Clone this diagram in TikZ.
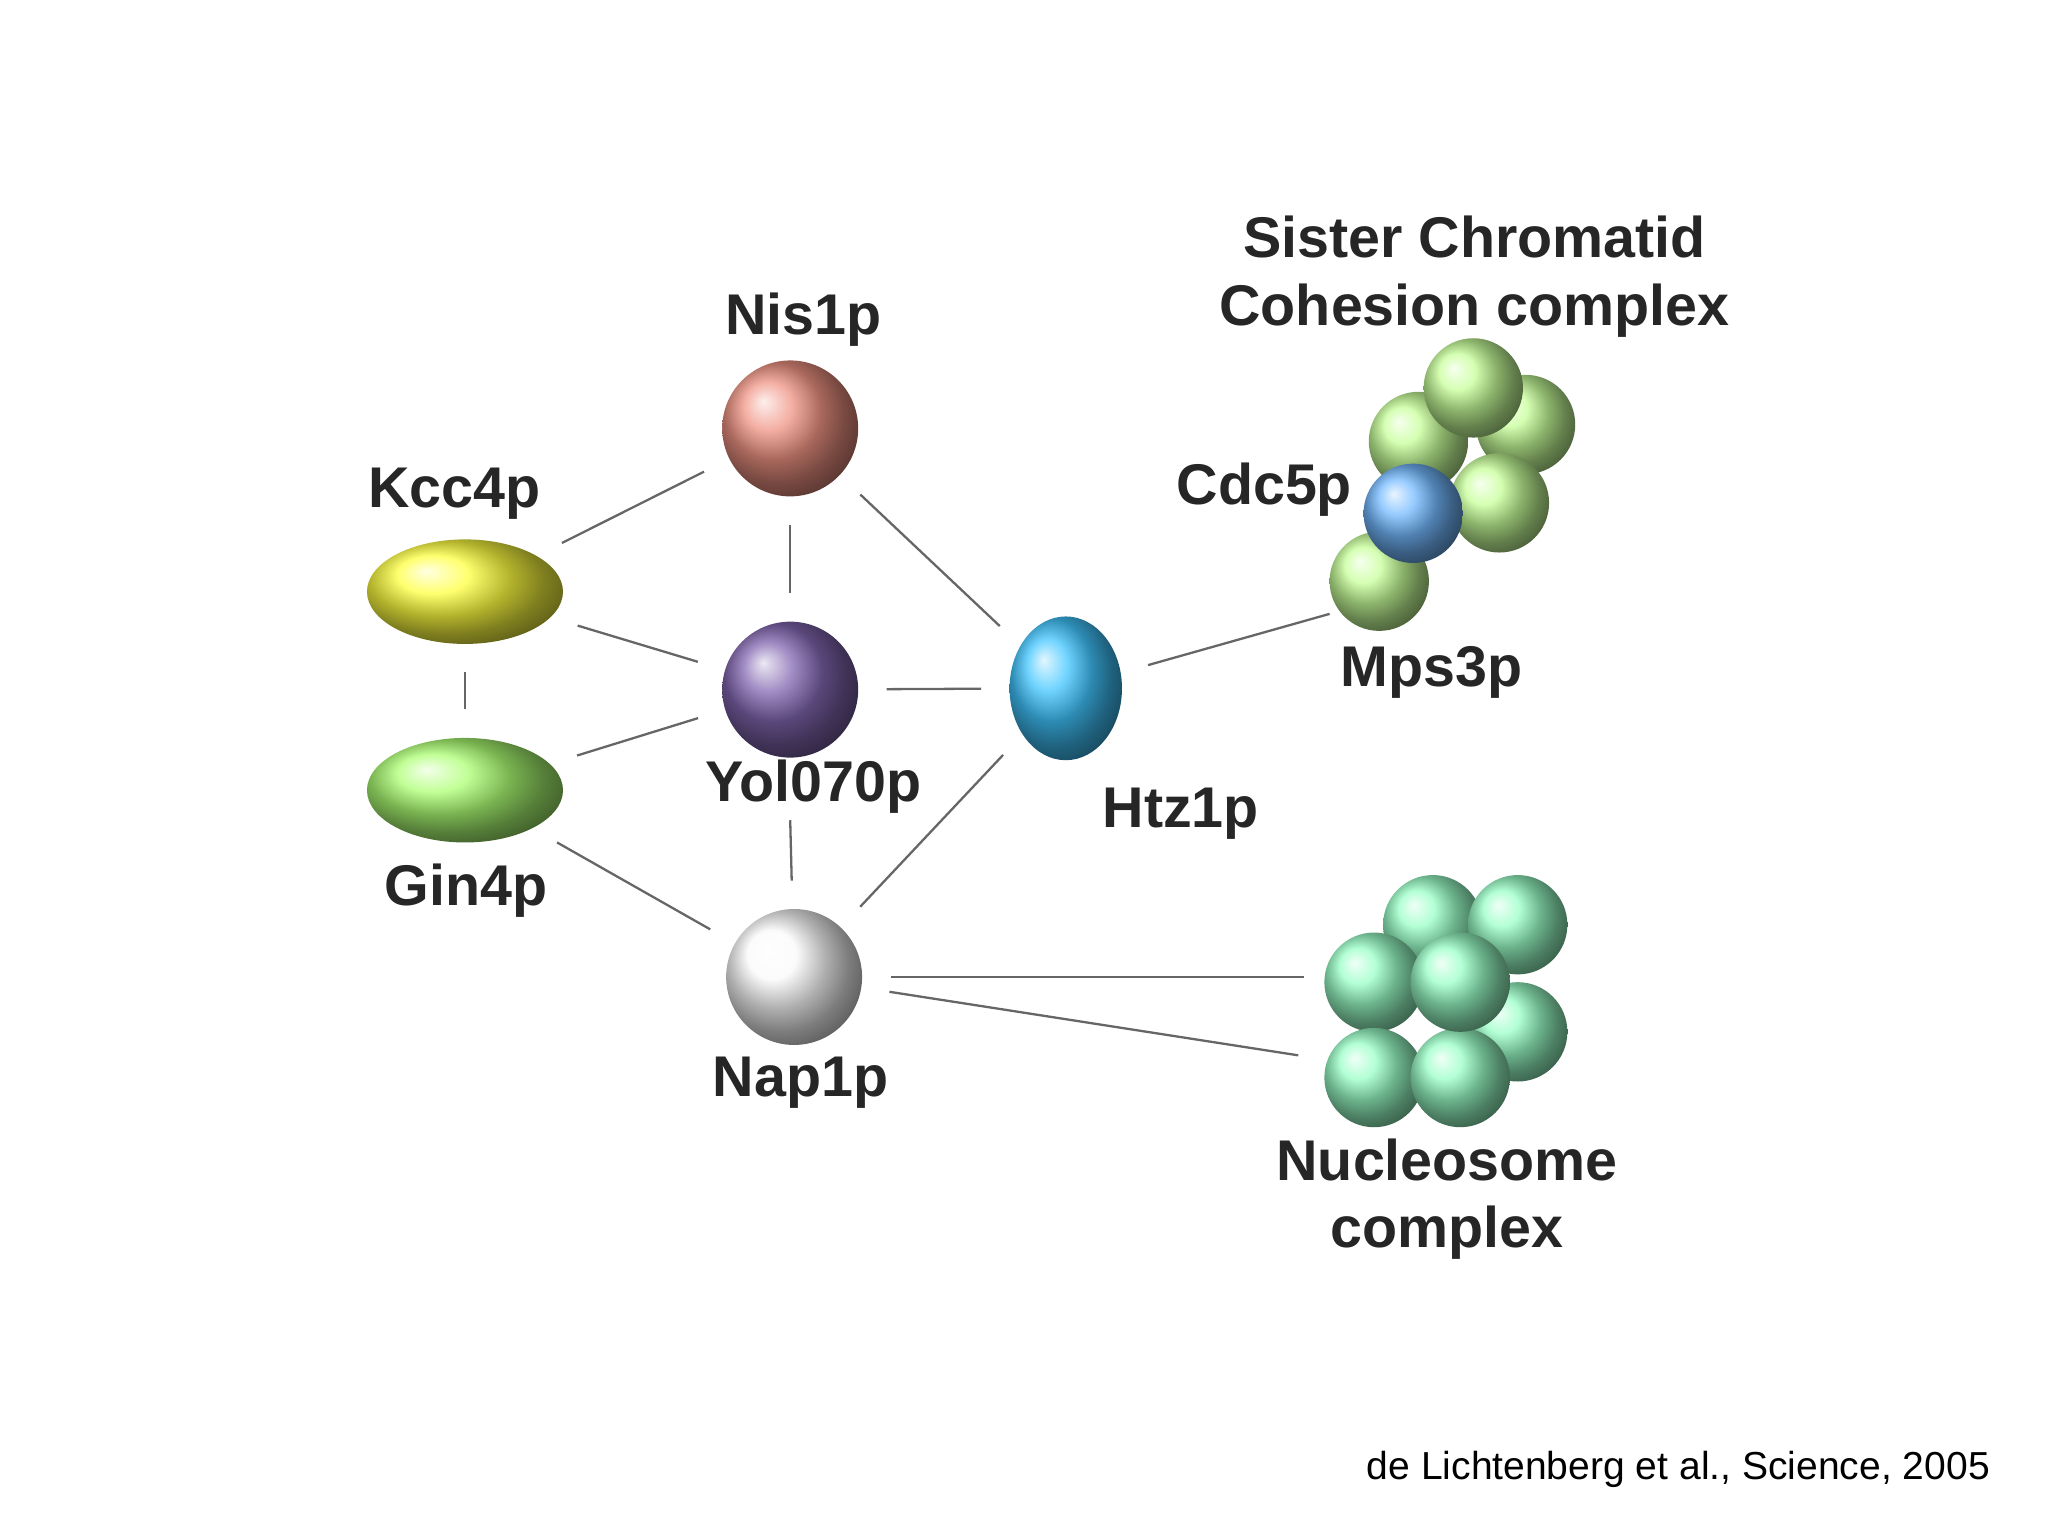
\documentclass[tikz,border=0pt]{standalone}
\usepackage{fontspec}
\setmainfont{Liberation Sans}
\usetikzlibrary{shapes.geometric}
\begin{document}
\begin{tikzpicture}[x=0.01cm,y=-0.01cm,
  lab/.style={font=\fontsize{12.5}{15}\selectfont\bfseries, text=black!85, align=center},
  ball/.style={circle, minimum size=#1*0.02cm, inner sep=0pt, draw=none},
  ell/.style={ellipse, inner sep=0pt, draw=none},
  edge/.style={draw=black!60, line width=0.5pt, shorten <=6pt, shorten >=6pt}]
\useasboundingbox (0,0) rectangle (1568,1176);
% nodes
\node[ball=52, ball color=red!55!brown!55!white] (nis) at (605,328) {};
\node[ball=52, ball color=blue!45!violet!50!gray!80!white] (yol) at (605,528) {};
\node[ball=52, ball color=gray!4] (nap) at (608,748) {};
\node[ell, minimum width=1.5cm, minimum height=0.8cm, ball color=yellow!75!white] (kcc) at (356,453) {};
\node[ell, minimum width=1.5cm, minimum height=0.8cm, ball color=green!45!lime!55!white] (gin) at (356,605) {};
\node[ell, minimum width=0.86cm, minimum height=1.1cm, ball color=cyan!70!blue!75!white] (htz) at (816,527) {};
% cohesion cluster
\foreach \p in {(1168,325),(1086,338),(1128,297),(1148,385),(1056,445)}
  \node[ball=38, ball color=green!40!lime!40!white] at \p {};
\node[ball=38, ball color=blue!50!cyan!55!white] (cdc) at (1082,393) {};
\coordinate (mps) at (1018,470);
% nucleosome cluster
\foreach \p in {(1097,708),(1162,708),(1162,790),(1052,752),(1052,825),(1118,825),(1118,752)}
  \node[ball=38, ball color=green!55!cyan!40!white] at \p {};
\coordinate (nuc1) at (998,748);
\coordinate (nuc2) at (994,808);
\coordinate (yolb) at (605,628);
% labels
\node[lab] at (615,245) {Nis1p};
\node[lab] at (348,378) {Kcc4p};
\node[lab] at (623,602) {Yol070p};
\node[lab] at (357,682) {Gin4p};
\node[lab] at (904,623) {Htz1p};
\node[lab] at (613,829) {Nap1p};
\node[lab] at (968,375) {Cdc5p};
\node[lab] at (1096,515) {Mps3p};
\node[lab, font=\fontsize{12.5}{14.7}\selectfont\bfseries] at (1129,212) {Sister Chromatid\\Cohesion complex};
\node[lab, font=\fontsize{12.5}{14.7}\selectfont\bfseries] at (1108,918) {Nucleosome\\complex};
\node[font=\fontsize{8.5}{10}\selectfont, text=black] at (1285,1125) {de Lichtenberg et al., Science, 2005};
% edges
\draw[edge] (kcc) -- (nis);
\draw[edge] (kcc) -- (yol);
\draw[edge] (kcc) -- (gin);
\draw[edge] (gin) -- (yol);
\draw[edge] (gin) -- (nap);
\draw[edge] (nis) -- (yol);
\draw[edge] (nis) -- (htz);
\draw[edge] (yol) -- (htz);
\draw[edge, shorten <=0pt] (yolb) -- (nap);
\draw[edge] (htz) -- (nap);
\draw[edge, shorten >=0pt] (htz) -- (mps);
\draw[edge, shorten >=0pt] (nap) -- (nuc1);
\draw[edge, shorten >=0pt] (nap) -- (nuc2);
\end{tikzpicture}
\end{document}
